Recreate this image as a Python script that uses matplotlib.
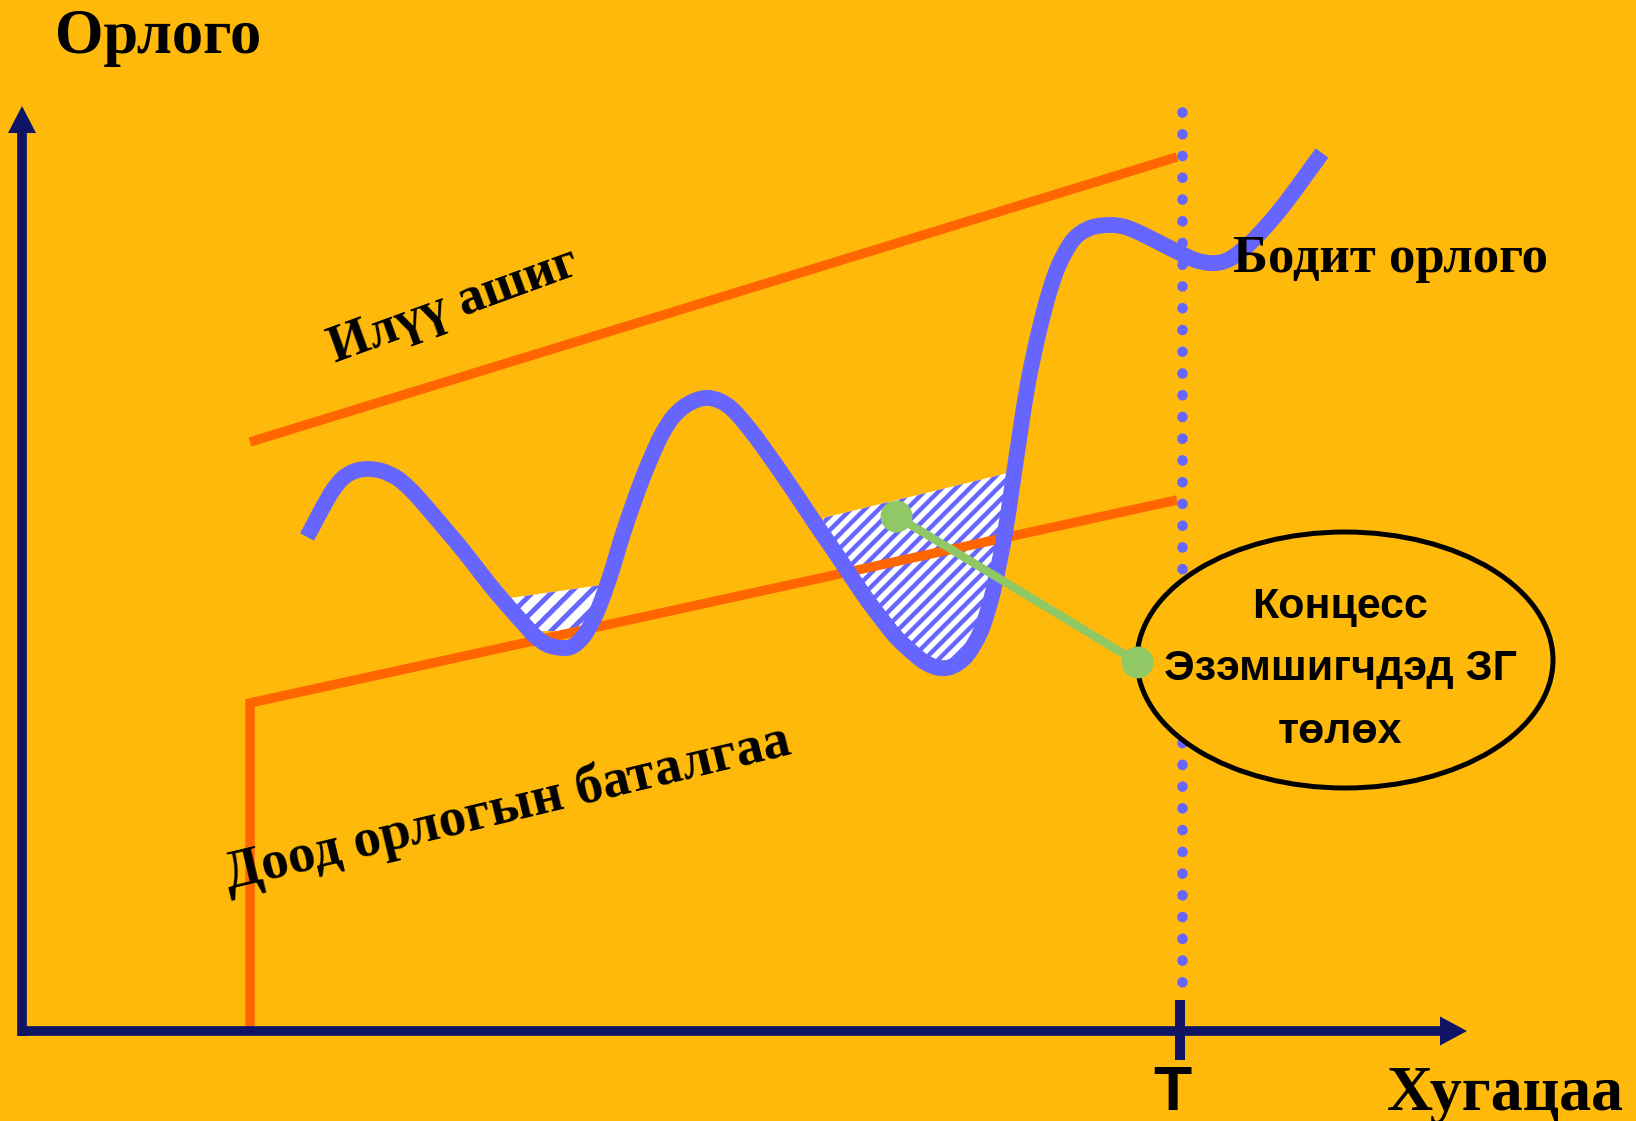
import numpy as np
import matplotlib
matplotlib.use("Agg")
import matplotlib.pyplot as plt
from matplotlib.patches import Ellipse, Polygon, PathPatch
from matplotlib.path import Path

# ---------------- data (pixel-space coordinates) -------------
# actual revenue curve ("Бодит орлого")
curve_x = [307, 315, 323, 333, 343, 355, 368, 382, 397, 410, 423, 440, 457, 473, 490,
           507, 523, 535, 548, 563, 573, 583, 591, 599, 606, 613, 621, 630, 640, 650,
           661, 673, 688, 705, 720, 733, 748, 763, 780, 797, 813, 830, 847, 863, 880,
           896, 913, 926, 940, 953, 967, 980, 988, 995, 1005, 1012, 1020, 1028, 1037,
           1047, 1058, 1073, 1090, 1110, 1125, 1140, 1160, 1180, 1195, 1210, 1222, 1233,
           1247, 1260, 1275, 1290, 1306, 1322]
curve_y = [537, 522, 507, 490, 478, 471, 469, 471, 478, 489, 503, 523, 543, 563, 585,
           605, 623, 636, 645, 648, 646, 637, 624, 607, 588, 567, 540, 513, 485, 460,
           436, 417, 404, 398, 401, 410, 427, 447, 471, 496, 520, 545, 570, 594, 617,
           637, 653, 663, 668, 666, 655, 633, 610, 583, 533, 487, 433, 383, 340,
           300, 267, 240, 228, 225, 227, 233, 243, 253, 260, 263, 262, 257,
           246, 233, 216, 197, 175, 153]

# upper band ("Илүү ашиг") and lower guarantee line
upper_x = [250, 1177]
upper_y = [442, 157]
lower_x = [250, 250, 1177]
lower_y = [1028, 703, 500]

# hatched zones: top edge end points and bottom cut
hatch1_top_x = [503, 602]
hatch1_top_y = [599, 585]
hatch1_cut = 631
hatch2_top_x = [823, 1008]
hatch2_top_y = [518, 473]
hatch2_cut = 660

# connector from hatched zone to ellipse
green_x = [896, 1137]
green_y = [516, 662]

T_x = 1182
ellipse_center = (1345, 660)
ellipse_size = (416, 256)

labels = {
    "y": "Орлого",
    "x": "Хугацаа",
    "T": "T",
    "actual": "Бодит орлого",
    "excess": "Илүү ашиг",
    "floor": "Доод орлогын баталгаа",
    "bubble": ["Концесс", "Эзэмшигчдэд ЗГ", "төлөх"],
}

# ---------------- style ----------------
BG = "#FFB90B"
BLUE = "#6666FF"
ORANGE = "#FF6600"
GREEN = "#8FC864"
NAVY = "#0F1464"
SERIF = ["Liberation Serif", "DejaVu Serif"]
SANS = ["Liberation Sans", "DejaVu Sans"]

W, H = 1636, 1121
fig = plt.figure(figsize=(W / 100, H / 100), dpi=100, facecolor=BG)
ax = fig.add_axes([0, 0, 1, 1])
ax.set_facecolor(BG)
ax.set_xlim(0, W)
ax.set_ylim(H, 0)
ax.axis("off")

# smooth path through the read points (cubic Bezier segments, Catmull-Rom handles)
P = np.column_stack([curve_x, curve_y]).astype(float)
verts = [P[0]]
codes = [Path.MOVETO]
n = len(P)
for i in range(n - 1):
    p0 = P[max(i - 1, 0)]
    p1 = P[i]
    p2 = P[i + 1]
    p3 = P[min(i + 2, n - 1)]
    verts += [p1 + (p2 - p0) / 6.0, p2 - (p3 - p1) / 6.0, p2]
    codes += [Path.CURVE4] * 3
curve_path = Path(np.array(verts), codes)
flat = curve_path.to_polygons(closed_only=False)[0]
fx, fy = flat[:, 0], flat[:, 1]


def hatch_zone(tx, ty, cut, period, lw):
    sel = (fx > tx[0]) & (fx < tx[1])
    px = list(fx[sel][::-1])
    py = list(np.minimum(fy[sel], cut)[::-1])
    vv = [(tx[0], ty[0]), (tx[1], ty[1])] + list(zip(px, py))
    poly = Polygon(vv, closed=True, fc="white", ec="none", zorder=2)
    ax.add_patch(poly)
    xs = [v[0] for v in vv]
    ys = [v[1] for v in vv]
    x0, x1 = min(xs) - 5, max(xs) + 5
    for c in np.arange(min(xs) + min(ys) - 20, max(xs) + max(ys) + 20, period):
        ln, = ax.plot([x0, x1], [c - x0, c - x1], color=BLUE, lw=lw,
                      solid_capstyle="butt", zorder=2.5)
        ln.set_clip_path(poly)


hatch_zone(hatch1_top_x, hatch1_top_y, hatch1_cut, 19, 3.6)
hatch_zone(hatch2_top_x, hatch2_top_y, hatch2_cut, 14, 3.2)

# orange lines
ax.plot(upper_x, upper_y, color=ORANGE, lw=6.8, solid_capstyle="butt", zorder=3)
ax.plot(lower_x, lower_y, color=ORANGE, lw=6.8, solid_capstyle="butt",
        solid_joinstyle="miter", zorder=3)

# dotted line at T
ax.plot([T_x, T_x], [112, 1003], color=BLUE, lw=7.6,
        linestyle=(0, (0.01, 2.05)), dash_capstyle="round", zorder=3.5)

# actual revenue curve
cp = PathPatch(curve_path, fill=False, ec=BLUE, lw=11.4, zorder=4)
cp.set_capstyle("butt")
cp.set_joinstyle("round")
ax.add_patch(cp)

# axes with arrows
ax.plot([22, 1445], [1031, 1031], color=NAVY, lw=7, solid_capstyle="butt", zorder=5)
ax.plot([22, 22], [1035.5, 125], color=NAVY, lw=7, solid_capstyle="butt", zorder=5)
ax.arrow(1440, 1031, 27, 0, width=0.1, head_width=29, head_length=27,
         length_includes_head=True, color=NAVY, lw=0, zorder=5)
ax.arrow(22, 133, 0, -27, width=0.1, head_width=28, head_length=27,
         length_includes_head=True, color=NAVY, lw=0, zorder=5)
ax.plot([T_x - 2, T_x - 2], [1000, 1060], color=NAVY, lw=7.2,
        solid_capstyle="butt", zorder=5)

# ellipse
ax.add_patch(Ellipse(ellipse_center, ellipse_size[0], ellipse_size[1],
                     fc=BG, ec="black", lw=3.6, zorder=6))

# green connector
ax.plot(green_x, green_y, color=GREEN, lw=6, solid_capstyle="butt", zorder=7)
ax.plot(green_x, green_y, "o", color=GREEN, ms=23, mec="none", zorder=7)

# texts
ax.text(55, 53, labels["y"], family=SERIF, weight="bold", fontsize=45,
        ha="left", va="baseline", zorder=8)
ax.text(1387, 1110, labels["x"], family=SERIF, weight="bold", fontsize=46,
        ha="left", va="baseline", zorder=8)
ax.text(1172, 1110, labels["T"], family=SANS, weight="bold", fontsize=45,
        ha="center", va="baseline", zorder=8)
ax.text(1233, 272, labels["actual"], family=SERIF, weight="bold", fontsize=38,
        ha="left", va="baseline", zorder=8)
ax.text(458, 318, labels["excess"], family=SERIF, weight="bold", fontsize=38,
        ha="center", va="baseline", rotation=20, rotation_mode="anchor", zorder=8)
ax.text(510, 822, labels["floor"], family=SERIF, weight="bold", fontsize=39.5,
        ha="center", va="baseline", rotation=13.5, rotation_mode="anchor", zorder=8)
for line, base in zip(labels["bubble"], [618, 680, 743]):
    ax.text(1340, base, line, family=SANS, weight="bold", fontsize=31,
            ha="center", va="baseline", zorder=8)

fig.savefig("out.png", dpi=100, facecolor=BG)
